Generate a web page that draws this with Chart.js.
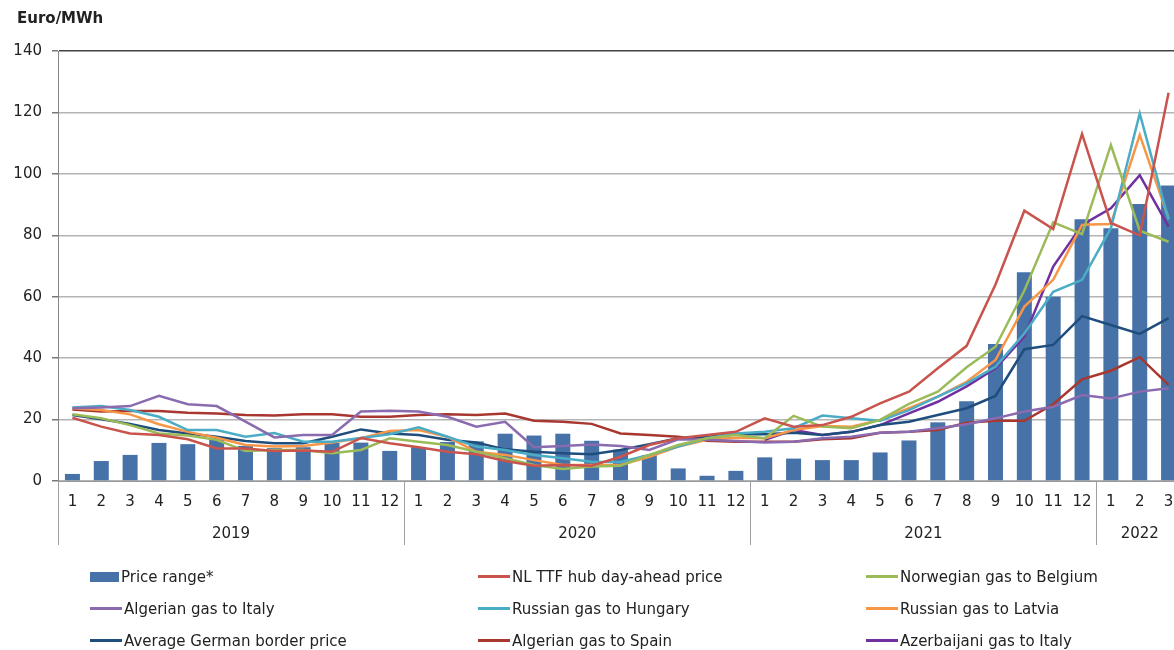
<!DOCTYPE html>
<html>
<head>
<meta charset="utf-8">
<script src="https://cdn.jsdelivr.net/npm/chart.js@4.4.1/dist/chart.umd.min.js"></script>
<style>
  body { margin: 0; background: #fff; overflow: hidden; font-family: "DejaVu Sans", sans-serif; color: #222; }
  #wrap { position: relative; width: 1174px; height: 650px; overflow: hidden; }
  #c { display: block; }
  #unit { position: absolute; left: 17px; top: 9px; font-weight: bold; font-size: 15px; }
  .leg { position: absolute; font-size: 15px; line-height: 18px; white-space: nowrap; }
  .leg i { display: inline-block; vertical-align: middle; margin-right: 2px; position: relative; top: -1px; }
</style>
</head>
<body>
<div id="wrap">
  <canvas id="c" width="1200" height="650"></canvas>
  <div id="unit">Euro/MWh</div>
  <div id="legend"></div>
</div>
<script>
// valores (Euro/MWh, mensual 2019-01 .. 2022-03)
const years = ["2019", "2020", "2021", "2022"];
const monthsPerYear = [12, 12, 12, 3];
const yTicks = [0, 20, 40, 60, 80, 100, 120, 140];

const priceRange = [2.3, 6.5, 8.5, 12.4, 12, 14, 11.4, 10.7, 11, 12.4, 12.5, 9.8,
  11, 12.7, 12.9, 15.4, 14.8, 15.4, 13.1, 10.2, 8.4, 4.1, 1.7, 3.3,
  7.7, 7.3, 6.8, 6.8, 9.3, 13.2, 19.1, 26, 44.6, 68, 60, 85.2,
  82.3, 90.2, 96.2];
const nlTtf = [20.6, 17.7, 15.5, 15, 13.6, 10.6, 10.6, 9.8, 9.9, 9.5, 14, 12.3,
  11, 9.5, 8.7, 6.5, 5, 5.2, 5, 7.9, 11.7, 13.9, 15, 16,
  20.4, 17.7, 18.2, 20.9, 25.3, 29.1, 36.7, 44, 64, 88, 82, 113,
  84, 80, 126.4];
const norBelgium = [21.7, 20.4, 18.2, 15.5, 14.8, 13.4, 9.8, 10.1, 10.1, 9, 10.1, 13.9,
  12.8, 11.7, 9.5, 7.4, 5.2, 3.9, 4.7, 5, 8.5, 11.7, 13.9, 15,
  13.9, 21.2, 17.7, 17.2, 19.9, 25.1, 29.1, 37, 43.7, 62, 84.2, 80.4,
  109.4, 81.5, 77.9];
const algItaly = [23.7, 23.9, 24.4, 27.7, 25, 24.4, 19.3, 14.2, 15, 15, 22.6, 22.9,
  22.6, 20.9, 17.7, 19.3, 11, 11.4, 11.9, 11.4, 10.1, 13.6, 13.4, 13,
  12.5, 12.8, 13.9, 14.4, 15.7, 16, 17.2, 18.5, 20.4, 22.6, 24.2, 28,
  26.9, 29.1, 30.2];
const rusHungary = [23.9, 24.4, 23.1, 20.9, 16.6, 16.6, 14.4, 15.6, 12.8, 12.8, 14, 15.2,
  17.5, 14.4, 11.2, 10.1, 8.5, 7.4, 6.3, 6.2, 8.5, 11.2, 13.9, 15.5,
  16, 17.2, 21.3, 20.4, 19.6, 23.1, 27.5, 31.8, 37.2, 48, 61.6, 65.5,
  82.3, 119.7, 85];
const rusLatvia = [23.7, 23.1, 21.7, 18.5, 16, 14.1, 11.7, 11.2, 11.4, 12.5, 13.9, 16.3,
  16.6, 14.4, 9.5, 8.5, 6.8, 5.2, 5.2, 5.2, 7.9, 11.2, 13.4, 14.1,
  13.9, 16.6, 17.9, 17.7, 19.9, 23.7, 27.5, 32.3, 39.4, 56.8, 65.5, 83.4,
  83.7, 112.7, 85.5];
const gerBorder = [21.5, 20.1, 18.6, 16.6, 15.5, 14.4, 13, 12.3, 12.3, 14.4, 16.8, 15.5,
  15, 13.4, 12.5, 10.3, 9.5, 9, 8.7, 10.1, 12, 13.9, 14.4, 15.2,
  15.2, 15.7, 15, 16, 18.2, 19.3, 21.5, 23.7, 27.7, 42.9, 44.3, 53.7,
  50.8, 47.9, 53];
const algSpain = [23.3, 22.6, 22.8, 22.8, 22.2, 22, 21.5, 21.3, 21.7, 21.7, 20.9, 20.9,
  21.5, 21.7, 21.5, 22, 19.6, 19.3, 18.6, 15.5, 15, 14.4, 13.1, 12.8,
  12.8, 12.8, 13.6, 13.9, 15.7, 16, 16.6, 19, 19.6, 19.6, 25, 33.1,
  35.9, 40.3, 31.3];
const azerItaly = [null, null, null, null, null, null, null, null, null, null, null, null,
  null, null, null, null, null, null, null, null, null, null, null, null,
  13.4, 16.6, 15, 16, 18.2, 22, 25.8, 30.8, 36.7, 47, 69.8, 83.4,
  88.8, 99.6, 82.8];

// etiquetas del eje x: numero de mes
const labels = [];
monthsPerYear.forEach(n => { for (let m = 1; m <= n; m++) labels.push(String(m)); });

const fontFam = '"DejaVu Sans", sans-serif';

function line(label, data, color) {
  return { type: "line", label, data, borderColor: color, backgroundColor: color,
    borderWidth: 2.5, pointRadius: 0, tension: 0, order: 1, spanGaps: false };
}

const datasets = [
  { type: "bar", label: "Price range*", data: priceRange, backgroundColor: "#4672a8",
    barPercentage: 0.52, categoryPercentage: 1, order: 10 },
  line("NL TTF hub day-ahead price", nlTtf, "#c9534d"),
  line("Norwegian gas to Belgium", norBelgium, "#9bbb59"),
  line("Algerian gas to Italy", algItaly, "#8a6bb0"),
  line("Russian gas to Hungary", rusHungary, "#4bacc6"),
  line("Russian gas to Latvia", rusLatvia, "#f79646"),
  line("Average German border price", gerBorder, "#1f4e7d"),
  line("Algerian gas to Spain", algSpain, "#a8372f"),
  line("Azerbaijani gas to Italy", azerItaly, "#7030a0")
];

// años debajo de los meses + separadores verticales
const yearAxis = {
  id: "yearAxis",
  afterDraw(chart) {
    const xs = chart.scales.x;
    const ctx = chart.ctx;
    const bottom = chart.chartArea.bottom;
    const half = (xs.getPixelForValue(1) - xs.getPixelForValue(0)) / 2;
    ctx.save();
    ctx.strokeStyle = "#a0a0a0";
    ctx.lineWidth = 1;
    ctx.fillStyle = "#222";
    ctx.font = "15px " + fontFam;
    ctx.textAlign = "center";
    ctx.textBaseline = "middle";
    let start = 0;
    years.forEach((y, k) => {
      const end = start + monthsPerYear[k] - 1;
      const sep = Math.round(xs.getPixelForValue(start) - half) + 0.5;
      ctx.beginPath();
      ctx.moveTo(sep, bottom);
      ctx.lineTo(sep, bottom + 64);
      ctx.stroke();
      const mid = (xs.getPixelForValue(start) + xs.getPixelForValue(end)) / 2;
      ctx.fillText(y, mid, bottom + 53);
      start = end + 1;
    });
    ctx.restore();
  }
};

new Chart(document.getElementById("c"), {
  data: { labels, datasets },
  options: {
    responsive: false,
    animation: false,
    devicePixelRatio: 1,
    layout: { padding: { top: 51, left: 0, right: 17, bottom: 100 } },
    plugins: { legend: { display: false }, tooltip: { enabled: false } },
    scales: {
      x: {
        grid: { display: false, drawTicks: false },
        border: { display: true, color: "#999", width: 1 },
        ticks: { color: "#222", font: { family: fontFam, size: 15 }, padding: 12,
          maxRotation: 0, autoSkip: false },
        afterFit: s => { s.height = 69; }
      },
      y: {
        min: 0, max: 140,
        afterBuildTicks: s => { s.ticks = yTicks.map(v => ({ value: v })); },
        grid: {
          color: c => c.tick.value === 140 ? "#444" : "#b4b4b4",
          lineWidth: 1.5,
          tickLength: 6, tickColor: "#777"
        },
        border: { display: true, color: "#888", width: 1 },
        ticks: { color: "#222", font: { family: fontFam, size: 15 }, padding: 10 },
        afterFit: s => { s.width = 58; }
      }
    }
  },
  plugins: [yearAxis]
});

// leyenda en 3 columnas
const legCols = [90, 478, 866];
const legRows = [577, 609, 641];
const legend = document.getElementById("legend");
datasets.forEach((d, i) => {
  const el = document.createElement("div");
  el.className = "leg";
  el.style.left = legCols[i % 3] + "px";
  el.style.top = (legRows[Math.floor(i / 3)] - 9) + "px";
  const sw = document.createElement("i");
  if (d.type === "bar") {
    sw.style.width = "29px"; sw.style.height = "10px"; sw.style.background = d.backgroundColor;
  } else {
    sw.style.width = "32px"; sw.style.height = "3px"; sw.style.background = d.borderColor;
  }
  el.appendChild(sw);
  el.appendChild(document.createTextNode(d.label));
  legend.appendChild(el);
});
</script>
</body>
</html>
